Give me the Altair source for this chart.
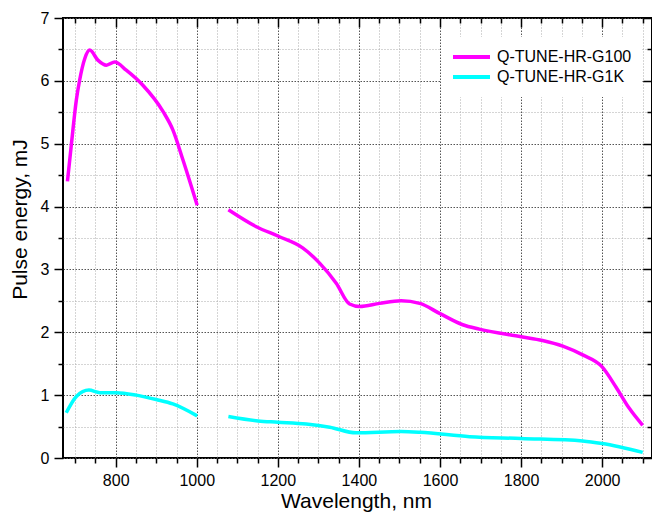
import altair as alt
import pandas as pd

series_names = ["Q-TUNE-HR-G100", "Q-TUNE-HR-G1K"]
series_colors = ["#FF00FF", "#00FFFF"]

# Q-TUNE-HR-G100, two segments (gap between 1000 and ~1080 nm)
g100_a_wl = [681, 691, 703, 711, 724, 736, 756, 777, 798, 826, 867, 917, 941, 966, 1001]
g100_a_e = [4.40, 5.01, 5.70, 6.01, 6.36, 6.49, 6.33, 6.25, 6.30, 6.17, 5.93, 5.51, 5.22, 4.74, 4.02]
g100_b_wl = [1078, 1147, 1204, 1262, 1303, 1344, 1377, 1402, 1451, 1504, 1550, 1599, 1656,
             1697, 1800, 1853, 1903, 1952, 2000, 2034, 2067, 2100]
g100_b_e = [3.95, 3.68, 3.52, 3.34, 3.10, 2.78, 2.45, 2.41, 2.46, 2.50, 2.46, 2.30, 2.12,
            2.05, 1.93, 1.87, 1.78, 1.64, 1.45, 1.13, 0.79, 0.52]

# Q-TUNE-HR-G1K
g1k_a_wl = [678, 703, 734, 761, 802, 851, 900, 941, 1001]
g1k_a_e = [0.72, 0.98, 1.08, 1.04, 1.04, 1.00, 0.93, 0.86, 0.67]
g1k_b_wl = [1078, 1151, 1200, 1270, 1328, 1393, 1504, 1550, 1673, 1800, 1952, 2000, 2100]
g1k_b_e = [0.66, 0.59, 0.57, 0.54, 0.49, 0.40, 0.42, 0.41, 0.34, 0.31, 0.27, 0.23, 0.09]

x_major = [800, 1000, 1200, 1400, 1600, 1800, 2000]
x_minor = [700, 750, 850, 900, 950, 1050, 1100, 1150, 1250, 1300, 1350, 1450, 1500, 1550,
           1650, 1700, 1750, 1850, 1900, 1950, 2050, 2100]
y_major = [0, 1, 2, 3, 4, 5, 6, 7]
y_minor = [0.5, 1.5, 2.5, 3.5, 4.5, 5.5, 6.5]

rows = []
for name, seg, wls, es in [
    (series_names[0], "g100a", g100_a_wl, g100_a_e),
    (series_names[0], "g100b", g100_b_wl, g100_b_e),
    (series_names[1], "g1ka", g1k_a_wl, g1k_a_e),
    (series_names[1], "g1kb", g1k_b_wl, g1k_b_e),
]:
    for w, e in zip(wls, es):
        rows.append({"series": name, "segment": seg, "wl": w, "e": e})
df = pd.DataFrame(rows)

FONT = "Liberation Sans"
xs = alt.Scale(domain=[670, 2123], nice=False, zero=False)
ys = alt.Scale(domain=[0, 7], nice=False, zero=True)

base = alt.Chart(df)

lines = base.mark_line(strokeWidth=3.5, interpolate="monotone").encode(
    x=alt.X("wl:Q", scale=xs, axis=alt.Axis(
        orient="bottom", values=x_major, format="d", tickSize=9, tickWidth=1.5, tickColor="black",
        labelPadding=5, labelFontSize=16, labelColor="black", labelFont=FONT,
        grid=True, gridColor="#555555", gridDash=[1.5, 1.5], gridWidth=1,
        domain=False, title="Wavelength, nm", titleFontSize=21, titleFont=FONT,
        titleFontWeight="normal", titleColor="black", titleX=293, titleY=49,
        titleBaseline="alphabetic", titleAlign="center")),
    y=alt.Y("e:Q", scale=ys, axis=alt.Axis(
        orient="left", values=y_major, format="d", tickSize=9, tickWidth=1.5, tickColor="black",
        labelPadding=5, labelFontSize=16, labelColor="black", labelFont=FONT,
        grid=True, gridColor="#555555", gridDash=[1.5, 1.5], gridWidth=1,
        domain=False, title="Pulse energy, mJ", titleFontSize=21, titleFont=FONT,
        titleFontWeight="normal", titleColor="black", titleX=-37, titleY=201,
        titleBaseline="alphabetic", titleAlign="center", titleAngle=270)),
    color=alt.Color("series:N", scale=alt.Scale(domain=series_names, range=series_colors),
                    legend=alt.Legend(orient="none", legendX=378, legendY=19, title=None,
                                      symbolType="stroke", symbolSize=1369, symbolStrokeWidth=4,
                                      clipHeight=20, rowPadding=0, labelFontSize=16,
                                      labelFont=FONT, labelColor="black", labelOffset=5,
                                      padding=10, fillColor="white")),
    detail="segment:N",
)

def ghost(xaxis, yaxis):
    return base.mark_point(opacity=0, size=1).encode(
        x=alt.X("wl:Q", scale=xs, axis=xaxis),
        y=alt.Y("e:Q", scale=ys, axis=yaxis),
    )

minor_bl = ghost(
    alt.Axis(orient="bottom", values=x_minor, tickSize=5, tickWidth=1.5, tickColor="black",
             labels=False, domain=False, title=None, grid=True, gridColor="#AAAAAA",
             gridDash=[1, 2], gridWidth=1),
    alt.Axis(orient="left", values=y_minor, tickSize=5, tickWidth=1.5, tickColor="black",
             labels=False, domain=False, title=None, grid=True, gridColor="#AAAAAA",
             gridDash=[1, 2], gridWidth=1),
)
major_tr = ghost(
    alt.Axis(orient="top", values=x_major, tickSize=9, tickWidth=1.5, tickColor="black",
             offset=-9, labels=False, domain=False, title=None, grid=False),
    alt.Axis(orient="right", values=y_major, tickSize=9, tickWidth=1.5, tickColor="black",
             offset=-9, labels=False, domain=False, title=None, grid=False),
)
minor_tr = ghost(
    alt.Axis(orient="top", values=x_minor, tickSize=5, tickWidth=1.5, tickColor="black",
             offset=-5, labels=False, domain=False, title=None, grid=False),
    alt.Axis(orient="right", values=y_minor, tickSize=5, tickWidth=1.5, tickColor="black",
             offset=-5, labels=False, domain=False, title=None, grid=False),
)

chart = alt.layer(minor_bl, lines, major_tr, minor_tr).resolve_axis(
    x="independent", y="independent"
).properties(
    width=589, height=440,
    autosize=alt.AutoSizeParams(type="none"),
    padding={"left": 55, "top": 10, "right": 0, "bottom": 54},
    background="white",
).configure_view(stroke="black", strokeWidth=2)

chart.save("out.html", embed_options={"renderer": "svg", "actions": False})
